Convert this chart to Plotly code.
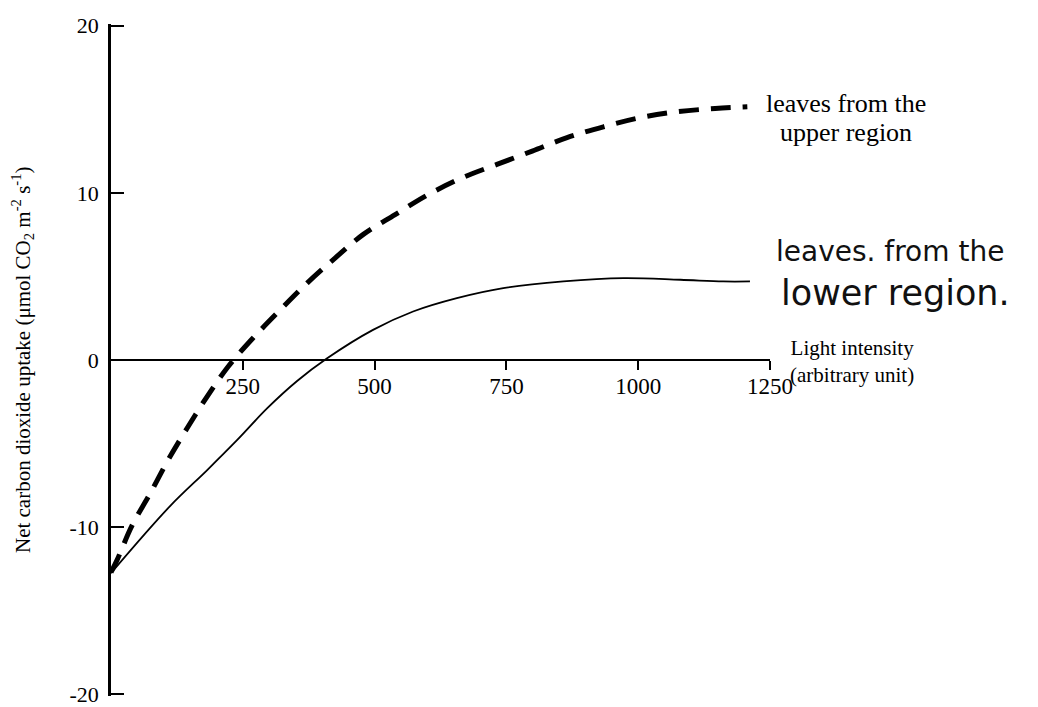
import plotly.graph_objects as go

# Light intensity (arbitrary unit) and net CO2 uptake readings
upper_x = [0, 11, 40, 74, 108, 144, 182, 222, 269, 321, 372, 425, 478, 539, 602, 666, 732,
           799, 865, 934, 1004, 1074, 1146, 1207]
upper_y = [-12.7, -12.0, -9.9, -8.0, -6.0, -4.1, -2.2, -0.4, 1.3, 3.0, 4.6, 6.1, 7.5, 8.7, 9.9,
           10.9, 11.7, 12.5, 13.3, 13.95, 14.5, 14.85, 15.05, 15.15]

lower_x = [0, 112, 182, 239, 296, 353, 410, 497, 573, 656, 744, 858, 972, 1080, 1161, 1212]
lower_y = [-12.75, -8.74, -6.6, -4.8, -2.9, -1.26, 0.1, 1.8, 2.9, 3.7, 4.3, 4.7, 4.9, 4.8, 4.7, 4.7]

x_ticks = [250, 500, 750, 1000, 1250]
y_ticks = [-20, -10, 0, 10, 20]

SERIF = "Liberation Serif, Times New Roman, serif"
HAND = "DejaVu Sans"

fig = go.Figure()
fig.add_trace(go.Scatter(x=upper_x, y=upper_y, mode="lines", line_shape="spline",
                         line=dict(color="black", width=5, dash="20px,12px"),
                         hoverinfo="skip", showlegend=False))
fig.add_trace(go.Scatter(x=lower_x, y=lower_y, mode="lines", line_shape="spline",
                         line=dict(color="black", width=1.8),
                         hoverinfo="skip", showlegend=False))

fig.update_layout(
    width=1030, height=699,
    margin=dict(l=103, r=268, t=16, b=11, autoexpand=False),
    paper_bgcolor="white", plot_bgcolor="white",
    font=dict(family=SERIF, size=23, color="black"),
    xaxis=dict(range=[0, 1250], tickvals=x_ticks, ticktext=[str(v) for v in x_ticks],
               anchor="free", position=0.5, showline=True, linecolor="black", linewidth=2,
               ticks="outside", ticklen=9, tickwidth=2, tickcolor="black",
               ticklabelstandoff=-4,
               showgrid=False, zeroline=False, tickfont=dict(family=SERIF, size=23)),
    yaxis=dict(range=[-20.1, 20.1], tickvals=y_ticks, ticktext=[str(v) for v in y_ticks],
               showline=True, linecolor="black", linewidth=2.5,
               ticks="inside", ticklen=13, tickwidth=2, tickcolor="black",
               ticklabelstandoff=5, ticklabeloverflow="allow",
               showgrid=False, zeroline=False, tickfont=dict(family=SERIF, size=22)),
    annotations=[
        dict(text="Net carbon dioxide uptake (μmol CO<sub>2</sub> m<sup>-2</sup> s<sup>-1</sup>)",
             xref="paper", yref="paper", x=-0.135, y=0.5, xanchor="center", yanchor="middle",
             textangle=-90, showarrow=False,
             font=dict(family=SERIF, size=21, color="black")),
        dict(text="leaves from the", xref="paper", yref="paper",
             x=1.115, y=0.882, xanchor="center", yanchor="middle", showarrow=False,
             font=dict(family=SERIF, size=26, color="black")),
        dict(text="upper region", xref="paper", yref="paper",
             x=1.115, y=0.839, xanchor="center", yanchor="middle", showarrow=False,
             font=dict(family=SERIF, size=26, color="black")),
        dict(text="Light intensity<br>(arbitrary unit)", xref="paper", yref="paper",
             x=1.124, y=0.4985, xanchor="center", yanchor="middle", showarrow=False, align="center",
             font=dict(family=SERIF, size=21, color="black")),
        dict(text="leaves. from the", xref="paper", yref="paper",
             x=1.182, y=0.662, xanchor="center", yanchor="middle", showarrow=False,
             font=dict(family=HAND, size=28, color="#111111")),
        dict(text="lower region.", xref="paper", yref="paper",
             x=1.19, y=0.600, xanchor="center", yanchor="middle", showarrow=False,
             font=dict(family=HAND, size=35, color="#111111")),
    ],
)

fig.write_html("out.html")
